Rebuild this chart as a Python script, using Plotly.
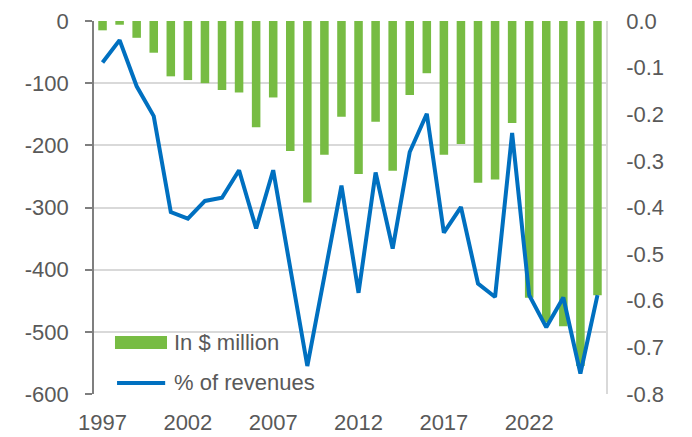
import plotly.graph_objects as go

years = list(range(1997, 2027))
in_million = [-15, -6, -27, -51, -89, -95, -100, -111, -115, -171,
              -123, -209, -292, -215, -154, -246, -162, -241, -119, -84,
              -215, -198, -260, -255, -164, -445, -485, -491, -555, -441]
pct_revenues = [-0.089, -0.041, -0.14, -0.204, -0.41, -0.424, -0.386, -0.379, -0.32, -0.445,
                -0.32, -0.53, -0.74, -0.547, -0.353, -0.583, -0.325, -0.488, -0.281, -0.199,
                -0.454, -0.399, -0.563, -0.592, -0.24, -0.588, -0.657, -0.593, -0.756, -0.588]
x_tick_labels = ["1997", "2002", "2007", "2012", "2017", "2022"]
left_ticks = [0, -100, -200, -300, -400, -500, -600]
left_tick_labels = ["0", "-100", "-200", "-300", "-400", "-500", "-600"]
right_ticks = [0.0, -0.1, -0.2, -0.3, -0.4, -0.5, -0.6, -0.7, -0.8]
right_tick_labels = ["0.0", "-0.1", "-0.2", "-0.3", "-0.4", "-0.5", "-0.6", "-0.7", "-0.8"]
series_names = ["In $ million", "% of revenues"]

FONT = "Liberation Sans, Arial, sans-serif"
TXT = "#595959"
AXIS = "#7f7f7f"
GRID = "#d9d9d9"
GREEN = "#77BC43"
BLUE = "#0070C0"

fig = go.Figure()
fig.add_bar(x=years, y=in_million, name=series_names[0], marker_color=GREEN,
            marker_line_width=0, width=0.5)
fig.add_scatter(x=years, y=pct_revenues, name=series_names[1], mode="lines",
                line=dict(color=BLUE, width=4), yaxis="y2")

# legend drawn inside the plot area (bottom-left), like the original
fig.add_shape(type="rect", xref="x domain", yref="y domain",
              x0=0.041, x1=0.1426, y0=0.1205, y1=0.1554,
              fillcolor=GREEN, line_width=0, layer="above")
fig.add_shape(type="line", xref="x domain", yref="y domain",
              x0=0.045, x1=0.139, y0=0.0295, y1=0.0295,
              line=dict(color=BLUE, width=4), layer="above")
fig.add_annotation(xref="x domain", yref="y domain", x=0.152, y=0.139,
                   text=series_names[0], showarrow=False, xanchor="left", yanchor="middle",
                   font=dict(size=22, color=TXT, family=FONT))
fig.add_annotation(xref="x domain", yref="y domain", x=0.152, y=0.0295,
                   text=series_names[1], showarrow=False, xanchor="left", yanchor="middle",
                   font=dict(size=22, color=TXT, family=FONT))

xr = [years[0] - 0.5, years[-1] + 0.5]
fig.update_layout(
    width=692, height=437,
    margin=dict(l=94, r=86, t=21, b=43, autoexpand=False),
    paper_bgcolor="white", plot_bgcolor="white",
    font=dict(family=FONT, size=22, color=TXT),
    showlegend=False,
    xaxis=dict(range=xr, tickvals=[int(t) for t in x_tick_labels], ticktext=x_tick_labels,
               ticks="", showline=False, showgrid=False, zeroline=False,
               ticklabelstandoff=13, automargin=False),
    xaxis2=dict(range=xr, overlaying="x", side="top", anchor="y",
                tickvals=[1996.5 + 5 * k for k in range(1, 7)],
                ticks="inside", ticklen=6, tickcolor=AXIS, tickwidth=1.5,
                showticklabels=False, showline=True, linecolor=AXIS, linewidth=1.5,
                showgrid=False, zeroline=False, automargin=False),
    yaxis=dict(range=[-600, 0], tickvals=left_ticks, ticktext=left_tick_labels,
               showgrid=True, gridcolor=GRID, gridwidth=1.5,
               showline=True, linecolor=AXIS, linewidth=1.5,
               ticks="outside", ticklen=7, tickcolor=AXIS, tickwidth=1.5,
               zeroline=False, ticklabelstandoff=12, automargin=False),
    yaxis2=dict(range=[-0.8, 0], overlaying="y", side="right", anchor="x",
                tickvals=right_ticks, ticktext=right_tick_labels,
                showgrid=False, showline=True, linecolor=GRID, linewidth=1.5,
                ticks="", zeroline=False, ticklabelstandoff=14, automargin=False),
)

fig.write_html("out.html", config={"displayModeBar": False},
               post_script="document.body.style.margin='0';")
